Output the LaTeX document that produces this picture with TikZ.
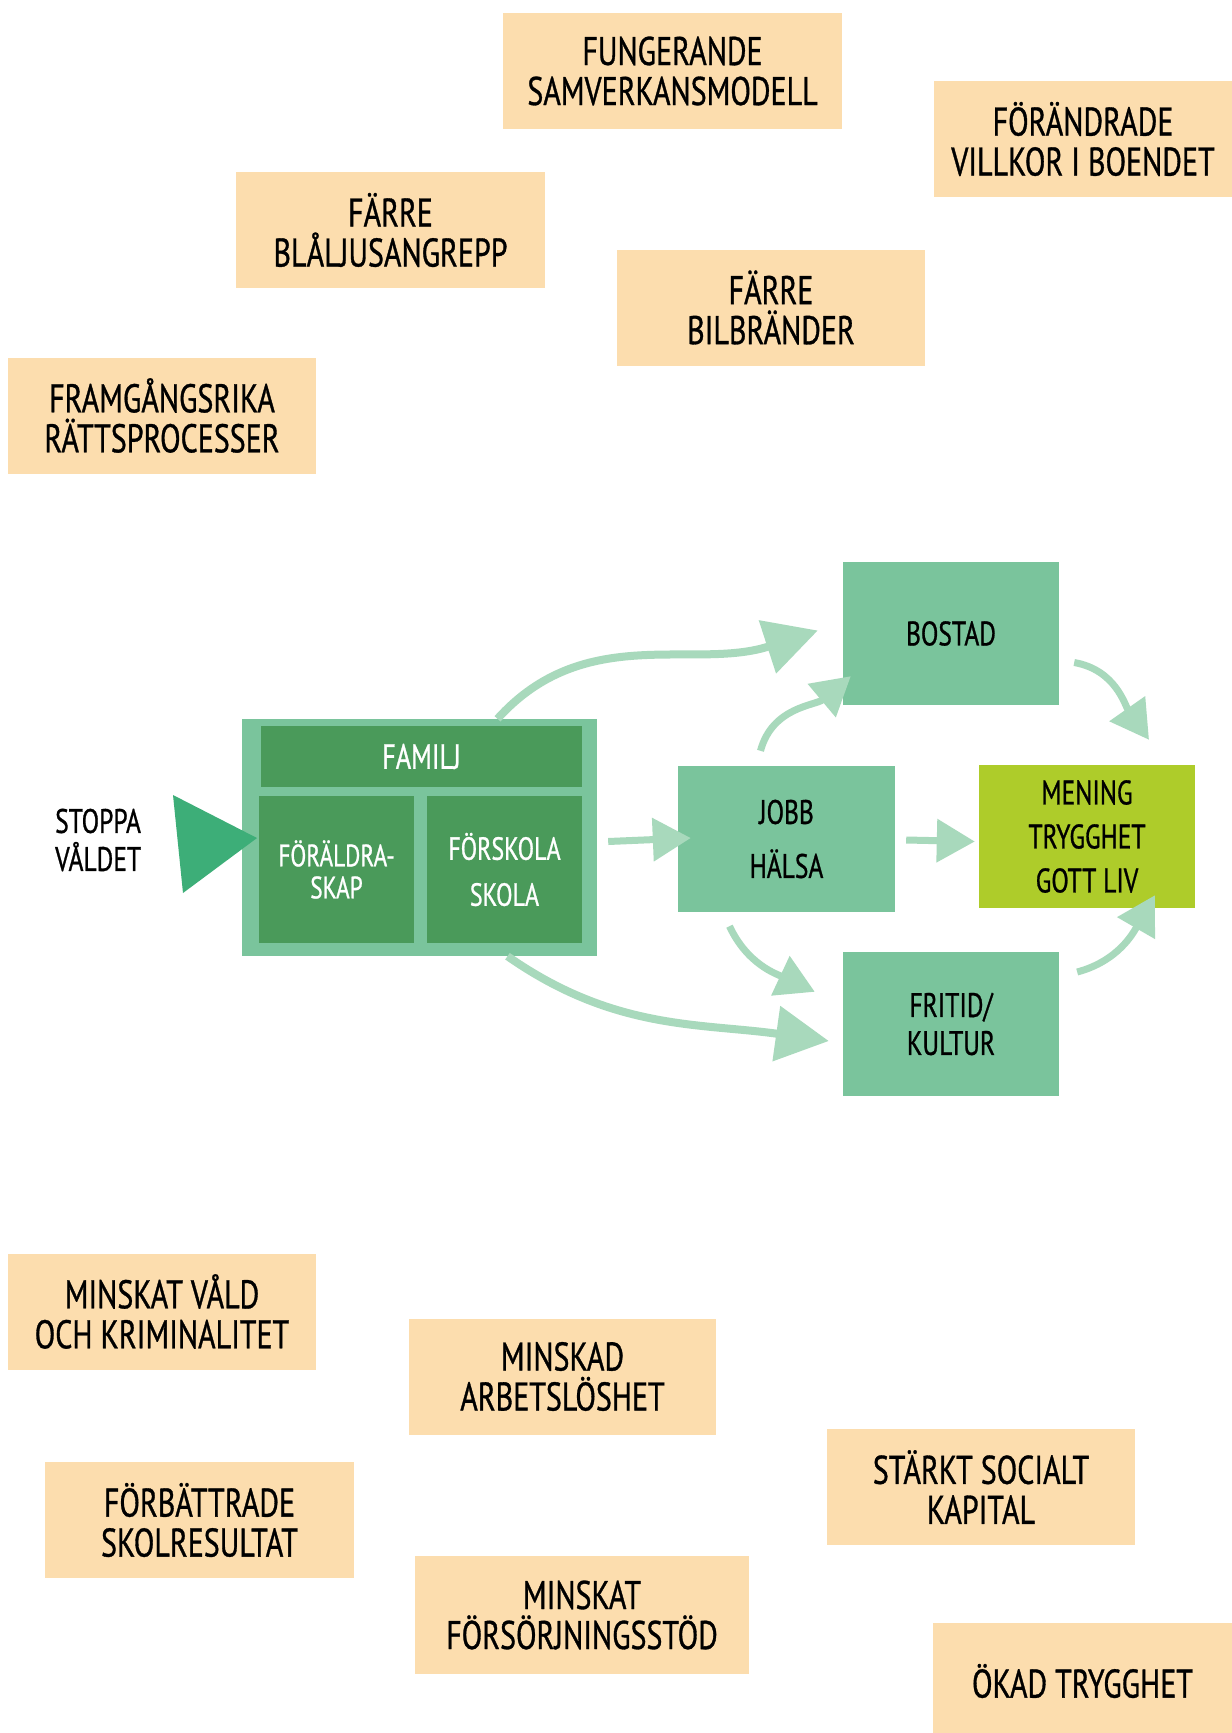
\documentclass[tikz,border=0pt]{standalone}
\usepackage{fontspec}
\setmainfont[FakeStretch=0.75,FakeBold=0.8]{PT Sans}
\usetikzlibrary{arrows.meta}
\definecolor{peach}{HTML}{FCDDAE}
\definecolor{lgreen}{HTML}{7AC49C}
\definecolor{dgreen}{HTML}{4A9A5A}
\definecolor{lime}{HTML}{AECC2A}
\definecolor{trigreen}{HTML}{3DAE78}
\definecolor{arrowgreen}{HTML}{A8D9BC}
\tikzset{
  goal/.style={fill=peach, draw=none, inner sep=0pt, align=center,
    minimum width=308pt, minimum height=116pt, font=\fontsize{40}{40}\selectfont},
  gbox/.style={fill=lgreen, draw=none, inner sep=0pt, align=center,
    minimum width=216pt, minimum height=144pt, font=\fontsize{34}{44}\selectfont},
  dbox/.style={fill=dgreen, draw=none, inner sep=0pt, align=center, text=white,
    font=\fontsize{32}{40}\selectfont},
  arr/.style={draw=arrowgreen, line width=8pt,
    -{Triangle[length=53pt,width=54pt]}},
  sarr/.style={draw=arrowgreen, line width=7pt,
    -{Triangle[length=38pt,width=42pt]}}
}
\begin{document}
\begin{tikzpicture}[x=1pt,y=-1pt]
\useasboundingbox (0,0) rectangle (1232,1733);
\fill[white] (0,0) rectangle (1232,1733);

% goal boxes (top)
\node[goal, minimum width=339pt] (fung) at (672.5,71) {FUNGERANDE\\SAMVERKANSMODELL};
\node[goal, minimum width=298pt] (forand) at (1083,139) {FÖRÄNDRADE\\VILLKOR I BOENDET};
\node[goal, minimum width=309pt] (blal) at (390.5,230) {FÄRRE\\BLÅLJUSANGREPP};
\node[goal] (bil) at (771,307.5) {FÄRRE\\BILBRÄNDER};
\node[goal] (framg) at (162,415.5) {FRAMGÅNGSRIKA\\RÄTTSPROCESSER};

% goal boxes (bottom)
\node[goal] (minvald) at (162,1311.5) {MINSKAT VÅLD\\OCH KRIMINALITET};
\node[goal, minimum width=307pt] (minarb) at (562.5,1376.5) {MINSKAD\\ARBETSLÖSHET};
\node[goal, minimum width=309pt] (forbatt) at (199.5,1520) {FÖRBÄTTRADE\\SKOLRESULTAT};
\node[goal] (stark) at (981,1487) {STÄRKT SOCIALT\\KAPITAL};
\node[goal, minimum width=334pt, minimum height=118pt] (minfor) at (582,1615) {MINSKAT\\FÖRSÖRJNINGSSTÖD};
\node[goal, minimum width=299pt] (okad) at (1082.5,1681) {ÖKAD TRYGGHET};

% central diagram
\node[fill=lgreen, minimum width=355pt, minimum height=237pt, inner sep=0pt] (famouter) at (419.5,837.5) {};
\node[dbox, minimum width=321pt, minimum height=61pt, font=\fontsize{35}{40}\selectfont] (famtop) at (421.5,756.5) {FAMILJ};
\node[dbox, minimum width=155pt, minimum height=147pt, font=\fontsize{31}{32}\selectfont] (foral) at (336.5,869.5) {FÖRÄLDRA-\\SKAP};
\node[dbox, minimum width=155pt, minimum height=147pt, font=\fontsize{32}{46}\selectfont] (forsk) at (504.5,869.5) {FÖRSKOLA\\SKOLA};

\fill[trigreen] (173,795) -- (257,838) -- (183,893) -- cycle;
\node[inner sep=0pt, align=left, anchor=west, font=\fontsize{34}{38}\selectfont] (stoppa) at (55,840) {STOPPA\\VÅLDET};

\node[gbox, minimum height=143pt] (bostad) at (951,633.5) {BOSTAD};
\node[gbox, minimum width=217pt, minimum height=146pt, font=\fontsize{34}{54}\selectfont] (jobb) at (786.5,839) {JOBB\\HÄLSA};
\node[gbox, fill=lime, minimum height=143pt] (mening) at (1087,836.5) {MENING\\TRYGGHET\\GOTT LIV};
\node[gbox, font=\fontsize{34}{38}\selectfont] (fritid) at (951,1024) {FRITID/\\KULTUR};

% arrows
\draw[arr] ([xshift=78pt,yshift=0pt]famouter.north) to[out=48,in=198] ([xshift=-25pt,yshift=3pt]bostad.west);
\draw[arr] ([xshift=88pt,yshift=0pt]famouter.south) to[out=-35,in=172] ([xshift=-14pt,yshift=-17pt]fritid.west);
\draw[sarr] ([xshift=11pt,yshift=-4pt]famouter.east) -- ([xshift=13pt,yshift=1pt]jobb.west);
\draw[sarr] ([xshift=11pt,yshift=-1pt]jobb.east) -- ([xshift=-4pt,yshift=-5pt]mening.west);
\draw[sarr] ([xshift=-26pt,yshift=15pt]jobb.north) to[out=75,in=220] ([xshift=8pt,yshift=29pt]bostad.south west);
\draw[sarr] ([xshift=-57pt,yshift=-14pt]jobb.south) to[out=-65,in=155] ([xshift=-28pt,yshift=-40pt]fritid.north west);
\draw[sarr] ([xshift=15pt,yshift=-29pt]bostad.east) to[out=-10,in=125] ([xshift=62pt,yshift=25pt]mening.north);
\draw[sarr] ([xshift=18pt,yshift=52pt]fritid.east) to[out=15,in=240] ([xshift=68pt,yshift=13pt]mening.south);
\end{tikzpicture}
\end{document}
